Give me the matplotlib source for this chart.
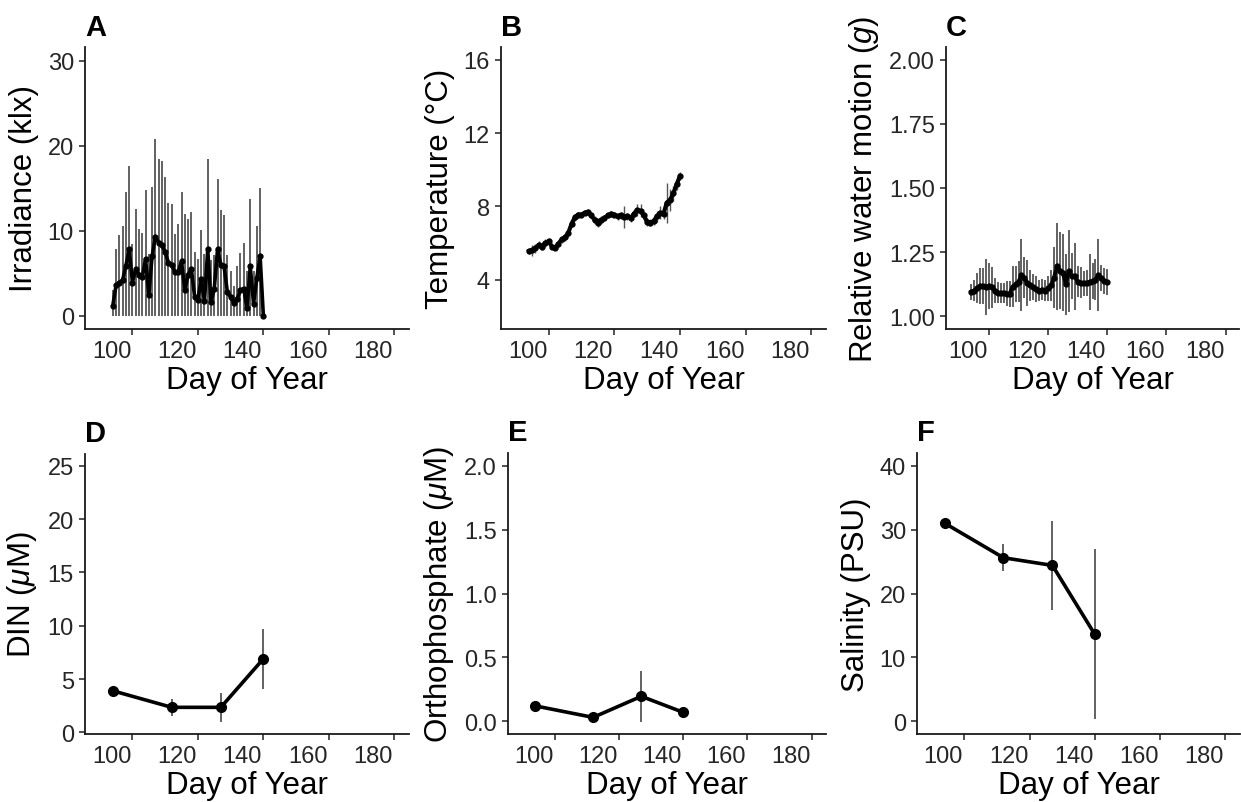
import matplotlib.pyplot as plt
import numpy as np
from matplotlib.transforms import ScaledTranslation

plt.rcParams['font.family'] = ['Liberation Sans', 'DejaVu Sans']
plt.rcParams['mathtext.fontset'] = 'custom'
plt.rcParams['mathtext.rm'] = 'Liberation Sans'
plt.rcParams['mathtext.it'] = 'Liberation Sans:italic'

# daily logger data, day of year 94..140
days = np.arange(94, 141)

irr_mean = [1.2, 3.6, 3.9, 4.2, 5.9, 7.8, 3.9, 5.5, 4.8, 4.5,
            6.7, 2.4, 7.0, 9.3, 8.6, 8.3, 7.5, 6.2, 6.0, 5.1,
            5.2, 6.4, 3.0, 4.8, 5.5, 2.2, 1.9, 4.3, 1.7, 7.8,
            1.6, 3.2, 7.8, 6.0, 5.8, 2.8, 2.2, 1.5, 2.0, 3.0,
            3.2, 0.9, 5.8, 1.4, 4.4, 7.0, 0.0]
irr_upper = [3.0, 7.9, 9.5, 10.5, 14.5, 17.6, 8.4, 12.5, 10.2, 9.7,
             14.8, 7.3, 15.1, 20.8, 18.4, 18.2, 16.3, 13.3, 13.1, 9.6,
             10.8, 14.6, 12.0, 11.4, 12.2, 7.5, 6.7, 10.1, 7.3, 18.4,
             6.5, 7.1, 16.1, 12.4, 11.9, 7.1, 5.3, 3.5, 5.9, 7.4,
             8.6, 5.3, 13.7, 5.3, 10.5, 15.0, 0.0]

temp_mean = [5.55, 5.6, 5.7, 5.9, 5.8, 6.0, 6.1, 5.8, 5.75, 5.95,
             6.2, 6.3, 6.55, 7.05, 7.4, 7.55, 7.55, 7.65, 7.7, 7.5,
             7.25, 7.1, 7.25, 7.35, 7.5, 7.6, 7.55, 7.45, 7.5, 7.4,
             7.45, 7.35, 7.6, 7.8, 7.75, 7.5, 7.15, 7.1, 7.2, 7.45,
             7.65, 7.6, 8.2, 8.35, 8.7, 9.2, 9.65]
temp_sd = [0.15, 0.3, 0.25, 0.2, 0.2, 0.2, 0.15, 0.15, 0.15, 0.2,
           0.2, 0.2, 0.2, 0.2, 0.2, 0.15, 0.15, 0.15, 0.15, 0.15,
           0.2, 0.25, 0.2, 0.15, 0.15, 0.15, 0.15, 0.2, 0.2, 0.6,
           0.2, 0.2, 0.2, 0.35, 0.35, 0.2, 0.2, 0.2, 0.2, 0.3,
           0.35, 0.3, 1.1, 0.6, 0.4, 0.3, 0.2]

motion_mean = [1.095, 1.10, 1.11, 1.116, 1.117, 1.115, 1.117, 1.112, 1.10, 1.092,
               1.09, 1.09, 1.088, 1.087, 1.115, 1.124, 1.135, 1.16, 1.15, 1.128,
               1.12, 1.113, 1.106, 1.10, 1.104, 1.10, 1.108, 1.12, 1.15, 1.195,
               1.178, 1.17, 1.124, 1.176, 1.156, 1.156, 1.135, 1.13, 1.128, 1.13,
               1.133, 1.137, 1.143, 1.16, 1.15, 1.138, 1.133]
motion_sd = [0.03, 0.04, 0.06, 0.07, 0.07, 0.11, 0.09, 0.08, 0.05, 0.04,
             0.04, 0.04, 0.05, 0.05, 0.08, 0.07, 0.08, 0.14, 0.08, 0.09,
             0.06, 0.05, 0.05, 0.04, 0.04, 0.04, 0.05, 0.06, 0.12, 0.17,
             0.15, 0.15, 0.12, 0.16, 0.09, 0.13, 0.06, 0.06, 0.05, 0.05,
             0.11, 0.07, 0.08, 0.14, 0.05, 0.05, 0.05]

# water samples
sample_days = [94, 112, 127, 140]
din_mean = [3.9, 2.35, 2.35, 6.9]
din_sd = [0.2, 0.8, 1.35, 2.8]
po4_mean = [0.12, 0.03, 0.195, 0.07]
po4_sd = [0.0, 0.0, 0.2, 0.0]
sal_mean = [31.0, 25.6, 24.4, 13.6]
sal_sd = [0.9, 2.1, 7.0, 13.3]

W, H = 1241, 803
fig = plt.figure(figsize=(W / 100, H / 100), dpi=100)
# x tick labels sit a bit left of their tick marks in the original
shift = ScaledTranslation(-21 / 100, 0, fig.dpi_scale_trans)


def make_ax(left, top, right, bottom):
    return fig.add_axes([left / W, 1 - bottom / H, (right - left) / W, (bottom - top) / H])


def style(ax, letter, ylabel, ylim, yticks, ytl=None):
    ax.set_xlim(85.5, 184.5)
    ax.set_xticks([100, 120, 140, 160, 180])
    ax.set_ylim(*ylim)
    ax.set_yticks(yticks)
    if ytl is not None:
        ax.set_yticklabels(ytl)
    for s in ['top', 'right']:
        ax.spines[s].set_visible(False)
    for s in ['left', 'bottom']:
        ax.spines[s].set_linewidth(1.3)
        ax.spines[s].set_color('#1a1a1a')
    ax.tick_params(labelsize=17, labelcolor='#262626', length=4, width=1.2,
                   color='#333333', pad=4)
    for lab in ax.get_xticklabels():
        lab.set_transform(lab.get_transform() + shift)
    ax.set_xlabel('Day of Year', fontsize=22.5, labelpad=2)
    ax.set_ylabel(ylabel, fontsize=22.5, labelpad=6)
    ax.set_title(letter, loc='left', fontsize=21, fontweight='bold', pad=9)


# A: irradiance
ax = make_ax(85, 48, 409, 330)
ax.vlines(days, 0, irr_upper, color='#555555', lw=1.3)
ax.plot(days, irr_mean, color='black', lw=2.6, marker='o', ms=3.5)
style(ax, 'A', 'Irradiance (klx)', (-1.56, 31.6), [0, 10, 20, 30])

# B: temperature
ax = make_ax(501, 48, 826, 330)
ax.errorbar(days, temp_mean, yerr=temp_sd, fmt='none', ecolor='#555555', elinewidth=1.0)
ax.plot(days, temp_mean, color='black', lw=3.0, marker='o', ms=3.5)
style(ax, 'B', 'Temperature (°C)', (1.3, 16.7), [4, 8, 12, 16])

# C: water motion
ax = make_ax(946, 48, 1239, 330)
ax.errorbar(days, motion_mean, yerr=motion_sd, fmt='none', ecolor='#555555', elinewidth=1.3)
ax.plot(days, motion_mean, color='black', lw=2.8, marker='o', ms=3.5)
style(ax, 'C', 'Relative water motion ($g$)', (0.95, 2.05),
      [1.0, 1.25, 1.5, 1.75, 2.0], ['1.00', '1.25', '1.50', '1.75', '2.00'])

# D: DIN
ax = make_ax(85, 455, 409, 735)
ax.errorbar(sample_days, din_mean, yerr=din_sd, fmt='none', ecolor='#555555', elinewidth=1.3)
ax.plot(sample_days, din_mean, color='black', lw=2.6, marker='o', ms=7)
style(ax, 'D', 'DIN ($\\mu$M)', (-0.15, 26.1), [0, 5, 10, 15, 20, 25])

# E: orthophosphate
ax = make_ax(508, 454, 826, 735)
ax.errorbar(sample_days, po4_mean, yerr=po4_sd, fmt='none', ecolor='#555555', elinewidth=1.3)
ax.plot(sample_days, po4_mean, color='black', lw=2.6, marker='o', ms=7)
style(ax, 'E', 'Orthophosphate ($\\mu$M)', (-0.1, 2.1),
      [0, 0.5, 1.0, 1.5, 2.0], ['0.0', '0.5', '1.0', '1.5', '2.0'])

# F: salinity
ax = make_ax(917, 454, 1240, 735)
ax.errorbar(sample_days, sal_mean, yerr=sal_sd, fmt='none', ecolor='#555555', elinewidth=1.3)
ax.plot(sample_days, sal_mean, color='black', lw=2.6, marker='o', ms=7)
style(ax, 'F', 'Salinity (PSU)', (-2, 42), [0, 10, 20, 30, 40])

fig.savefig('out.png', dpi=100)
